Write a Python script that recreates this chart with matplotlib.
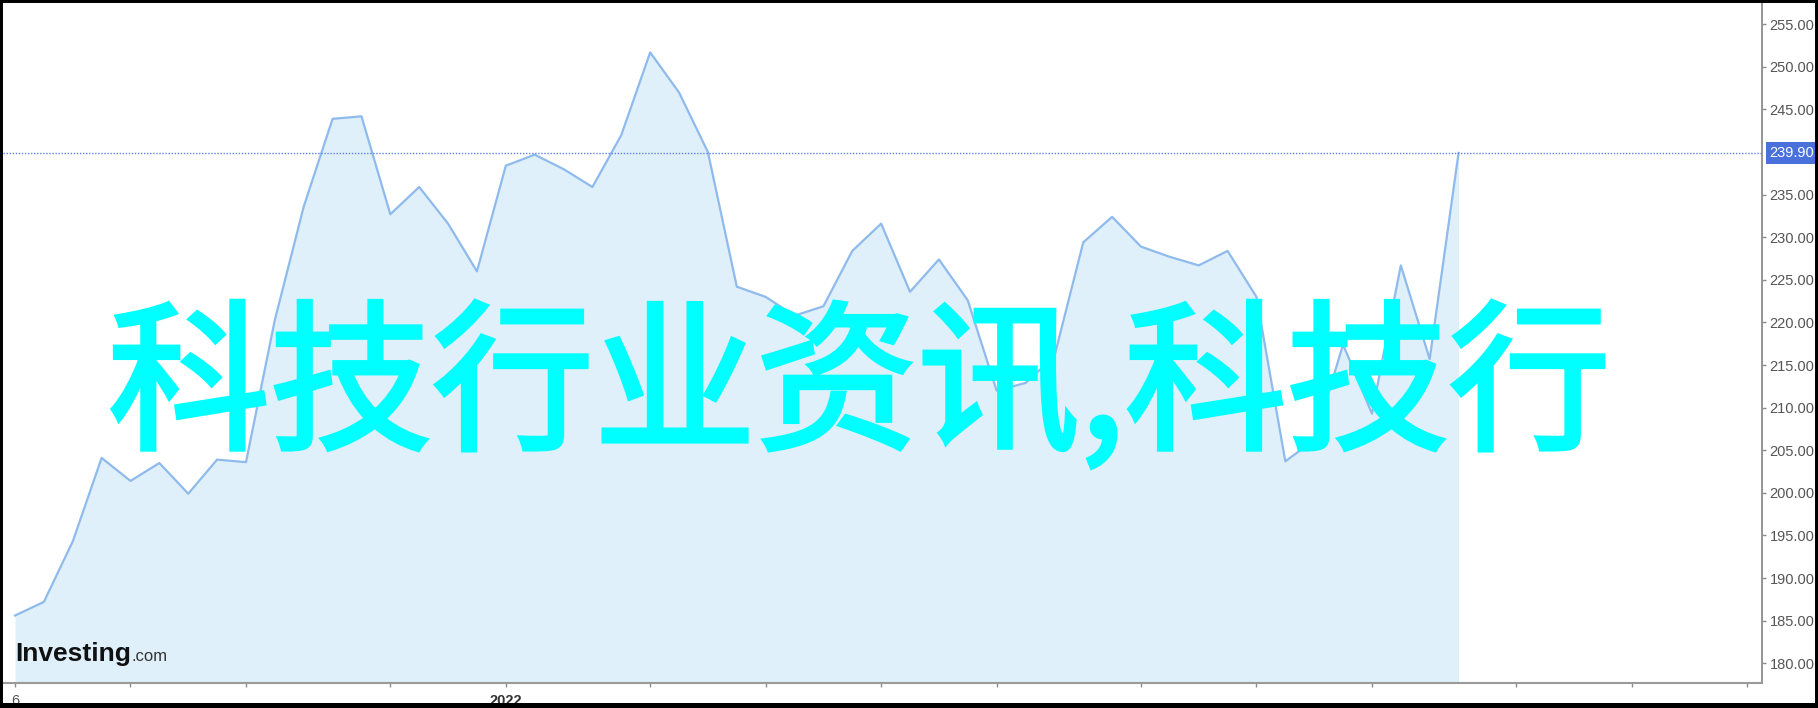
import matplotlib
matplotlib.use('Agg')
import matplotlib.pyplot as plt
import matplotlib.patheffects as pe
from matplotlib.patches import Rectangle
import numpy as np

# weekly closes (week 0 = first tick "6")
weeks = np.arange(51)
price = [185.6, 187.2, 194.3, 204.1, 201.4, 203.5, 199.9, 203.9, 203.6, 220.3,
         233.6, 243.9, 244.2, 232.7, 235.9, 231.6, 226.0, 238.4, 239.7, 238.0,
         235.9, 242.0, 251.7, 247.0, 240.0, 224.2, 223.0, 220.8, 221.9, 228.4,
         231.6, 223.6, 227.4, 222.6, 212.0, 212.9, 216.0, 229.4, 232.4, 228.9,
         227.7, 226.7, 228.4, 223.0, 203.7, 206.2, 217.4, 209.3, 226.7, 215.7,
         239.9]
last_price = 239.90

tick_weeks = [0, 4, 8, 13, 17, 22, 26, 30, 34, 39, 43, 47, 52, 56, 60]
tick_labels = ['6', '', '', '', '2022', '', '', '', '', '', '', '', '', '', '']
y_ticks = [180, 185, 190, 195, 200, 205, 210, 215, 220, 225, 230, 235, 245, 250, 255]

overlay_text = '科技行业资讯,科技行'

plt.rcParams['font.family'] = ['Liberation Sans', 'DejaVu Sans']

W, H = 1818, 708
fig = plt.figure(figsize=(W / 100, H / 100), dpi=100)
ax = fig.add_axes([3 / W, 25 / H, 1759 / W, 680 / H])

# area + line
ax.fill_between(weeks, price, 170, color='#E0F0FA', lw=0)
ax.plot(weeks, price, color='#8EBAEC', lw=1.6)
ax.axhline(last_price, color='#5F82E2', lw=1, ls=(0, (1, 1.2)))

ax.set_xlim(-0.416, 60.51)
ax.set_ylim(177.68, 257.5)

# axes look
ax.yaxis.tick_right()
ax.set_yticks(y_ticks)
ax.set_yticklabels([f'{v:.2f}' for v in y_ticks])
ax.set_xticks(tick_weeks)
ax.set_xticklabels(tick_labels)
ax.spines['top'].set_visible(False)
ax.spines['left'].set_visible(False)
ax.spines['right'].set_color('#8c8c8c')
ax.spines['bottom'].set_color('#9a9a9a')
ax.spines['right'].set_linewidth(1.3)
ax.spines['bottom'].set_linewidth(1.5)
ax.tick_params(axis='y', direction='out', length=3, width=1, color='#8c8c8c',
               labelsize=10.5, labelcolor='#555555', pad=2.5)
ax.tick_params(axis='x', direction='out', length=3, width=1, color='#8c8c8c',
               labelsize=10.5, labelcolor='#555555', pad=5)
ax.get_xticklabels()[4].set_fontweight('bold')
ax.get_xticklabels()[4].set_color('#333333')

# last price tag
ax.annotate(f'{last_price:.2f}', xy=(1, last_price), xycoords=ax.get_yaxis_transform(),
            xytext=(5.5, 0), textcoords='offset points', ha='left', va='center',
            fontsize=10.5, color='white',
            bbox=dict(boxstyle='square,pad=0.25', fc='#4A70DB', ec='none'))

# big overlay text (stroke thickens the regular weight a bit)
fig.text(108 / W, (H - 437) / H, overlay_text, fontsize=116.6, color='#00FFFF',
         family=['Noto Sans CJK SC', 'DejaVu Sans'], fontweight='medium',
         ha='left', va='baseline',
         path_effects=[pe.withStroke(linewidth=3, foreground='#00FFFF',
                                     joinstyle='miter')])

# watermark logo
logo = fig.text(15 / W, (H - 661) / H, 'Investing', fontsize=19, fontweight='bold',
                color='#111111', ha='left', va='baseline')
ax.annotate('.com', xy=(1, 0), xycoords=logo, xytext=(0.3, 1.2), textcoords='offset points',
            ha='left', va='bottom', fontsize=12, color='#333333')

# black frame
fig.add_artist(Rectangle((0, 0), 1, 1, transform=fig.transFigure, fill=False,
                         ec='black', lw=4.3))
fig.add_artist(Rectangle((0, 0), 1, 5 / H, transform=fig.transFigure, fc='black', ec='none'))

fig.savefig('out.png', dpi=100)
